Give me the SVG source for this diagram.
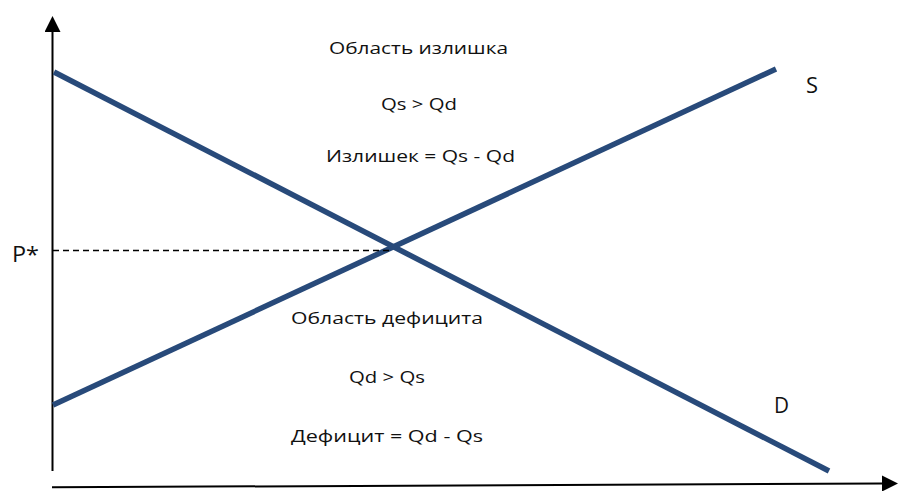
<svg xmlns="http://www.w3.org/2000/svg" width="910" height="502" viewBox="0 0 910 502">
  <defs>
    <style>
      .axis { stroke: #000; stroke-width: 2; fill: none; }
      .curve { stroke: #284a7a; stroke-width: 5.5; fill: none; stroke-linecap: butt; }
      .dash { stroke: #000; stroke-width: 1.6; stroke-dasharray: 6 4; fill: none; }
      .lbl { font-family: "Open Sans", "Liberation Sans", sans-serif; font-size: 17px; fill: #111; text-anchor: start; }
      .big { font-family: "Open Sans", "Liberation Sans", sans-serif; font-size: 22px; fill: #111; }
    </style>
    <marker id="arrow" markerUnits="userSpaceOnUse" markerWidth="16" markerHeight="16" viewBox="0 0 16 16" refX="0" refY="8" orient="auto">
      <path d="M0,0 L16,8 L0,16 Z" fill="#000"/>
    </marker>
  </defs>
  <rect width="910" height="502" fill="#fff"/>

  <g id="axes">
    <line class="axis" x1="52.5" y1="471" x2="52.5" y2="32" marker-end="url(#arrow)"/>
    <line class="axis" x1="52" y1="487.3" x2="882" y2="483.5" marker-end="url(#arrow)"/>
  </g>

  <g id="connectors">
    <line id="demand" class="curve" x1="54" y1="72" x2="829" y2="471"/>
    <line id="supply" class="curve" x1="53" y1="405" x2="776" y2="69"/>
    <line id="p-star-guide" class="dash" x1="53" y1="250.5" x2="390" y2="250.5"/>
  </g>

  <g id="label-p">
    <text class="big" x="12" y="262" textLength="27" lengthAdjust="spacingAndGlyphs">P*</text>
  </g>
  <g id="label-s">
    <text class="big" x="806" y="93" textLength="12" lengthAdjust="spacingAndGlyphs">S</text>
  </g>
  <g id="label-d">
    <text class="big" x="774" y="413" textLength="15" lengthAdjust="spacingAndGlyphs">D</text>
  </g>

  <g id="surplus">
    <text class="lbl" x="329" y="54" textLength="179" lengthAdjust="spacingAndGlyphs">Область излишка</text>
    <text class="lbl" x="381" y="110" textLength="76" lengthAdjust="spacingAndGlyphs">Qs &gt; Qd</text>
    <text class="lbl" x="326" y="162" textLength="189" lengthAdjust="spacingAndGlyphs">Излишек = Qs - Qd</text>
  </g>

  <g id="deficit">
    <text class="lbl" x="291" y="324" textLength="192" lengthAdjust="spacingAndGlyphs">Область дефицита</text>
    <text class="lbl" x="349" y="383" textLength="76" lengthAdjust="spacingAndGlyphs">Qd &gt; Qs</text>
    <text class="lbl" x="291" y="442" textLength="192" lengthAdjust="spacingAndGlyphs">Дефицит = Qd - Qs</text>
  </g>
</svg>
